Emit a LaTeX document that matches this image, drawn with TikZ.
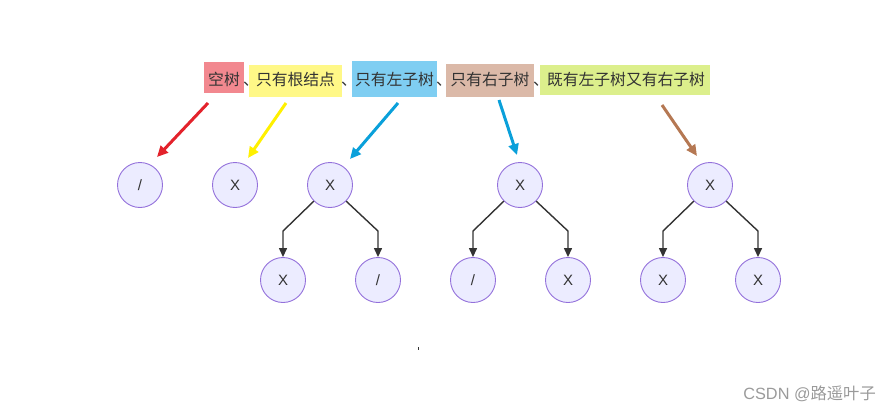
\documentclass[tikz,border=0pt]{standalone}
\usepackage{fontspec}
\setmainfont{Liberation Sans}
\newfontfamily\cjk{Noto Sans CJK SC}
\usetikzlibrary{arrows.meta,calc}
\definecolor{txt}{HTML}{333333}
\definecolor{nodefill}{HTML}{ECECFF}
\definecolor{nodeline}{HTML}{9370DB}
\definecolor{cred}{HTML}{F2888F}
\definecolor{cyel}{HTML}{FFF887}
\definecolor{cblue}{HTML}{7FCEF2}
\definecolor{ctan}{HTML}{DBB9A8}
\definecolor{cgreen}{HTML}{DCEF8C}
\definecolor{ared}{HTML}{E3222B}
\definecolor{ayel}{HTML}{FFF000}
\definecolor{ablue}{HTML}{0AA0DA}
\definecolor{abrown}{HTML}{B57853}
\definecolor{wm}{HTML}{9A9A9A}
\tikzset{
  x=1pt, y=-1pt,
  tnode/.style={circle, draw=nodeline, fill=nodefill, line width=0.9pt, minimum size=45pt, inner sep=0pt, text=txt, font=\fontsize{15}{15}\selectfont},
  edge/.style={draw=txt, line width=1.4pt, -{Triangle[length=9pt,width=8pt]}},
  ltext/.style={anchor=base, inner sep=0pt, text=txt, font=\cjk\fontsize{15.8}{15.8}\selectfont},
  sep/.style={anchor=base west, inner sep=0pt, text=txt, font=\cjk\fontsize{15.8}{15.8}\selectfont},
  carrow/.style={line width=3pt, -{Triangle[length=11pt,width=10pt]}}
}
\begin{document}
\begin{tikzpicture}
\useasboundingbox (0,0) rectangle (893,412);
% label boxes
\fill[cred]   (204,62) rectangle (244,93);
\fill[cyel]   (249,65) rectangle (342,97);
\fill[cblue]  (352,61) rectangle (437,97);
\fill[ctan]   (446,64) rectangle (534,97);
\fill[cgreen] (540,65) rectangle (710,95);
\node[ltext] (l1) at (224,85) {空树};
\node[sep]   (s1) at (243,85) {、};
\node[ltext] (l2) at (295.5,85) {只有根结点};
\node[sep]   (s2) at (341,85) {、};
\node[ltext] (l3) at (394.5,85) {只有左子树};
\node[sep]   (s3) at (436,85) {、};
\node[ltext] (l4) at (490,85) {只有右子树};
\node[sep]   (s4) at (533,85) {、};
\node[ltext] (l5) at (626,85) {既有左子树又有右子树};
% tree nodes
\node[tnode] (a)  at (140,185) {/};
\node[tnode] (b)  at (235,185) {X};
\node[tnode] (c)  at (330,185) {X};
\node[tnode] (cl) at (283,280) {X};
\node[tnode] (cr) at (378,280) {/};
\node[tnode] (d)  at (520,185) {X};
\node[tnode] (dl) at (473,280) {/};
\node[tnode] (dr) at (568,280) {X};
\node[tnode] (e)  at (710,185) {X};
\node[tnode] (el) at (663,280) {X};
\node[tnode] (er) at (758,280) {X};
% tree edges
\foreach \p/\q in {c/cl, d/dl, e/el}
  \draw[edge] (\p.south west) -- ($(\q.north)+(0,-26)$) -- (\q.north);
\foreach \p/\q in {c/cr, d/dr, e/er}
  \draw[edge] (\p.south east) -- ($(\q.north)+(0,-26)$) -- (\q.north);
% coloured arrows
\coordinate (r0) at (208,103); \coordinate (r1) at (157,157);
\coordinate (y0) at (286,103); \coordinate (y1) at (248,158);
\coordinate (b0) at (398,103); \coordinate (b1) at (350,159);
\coordinate (t0) at (499,100); \coordinate (t1) at (517,155);
\coordinate (g0) at (662,105); \coordinate (g1) at (697,156);
\draw[carrow, ared]   (r0) -- (r1);
\draw[carrow, ayel]   (y0) -- (y1);
\draw[carrow, ablue]  (b0) -- (b1);
\draw[carrow, ablue]  (t0) -- (t1);
\draw[carrow, abrown] (g0) -- (g1);
% small mark
\fill[txt] (417.5,347) rectangle (418.7,350);
% watermark
\node[anchor=base east, inner sep=0pt, text=wm, font=\fontsize{16.3}{16.3}\selectfont] (wmk) at (876,399) {CSDN @{\cjk 路遥叶子}};
\end{tikzpicture}
\end{document}
